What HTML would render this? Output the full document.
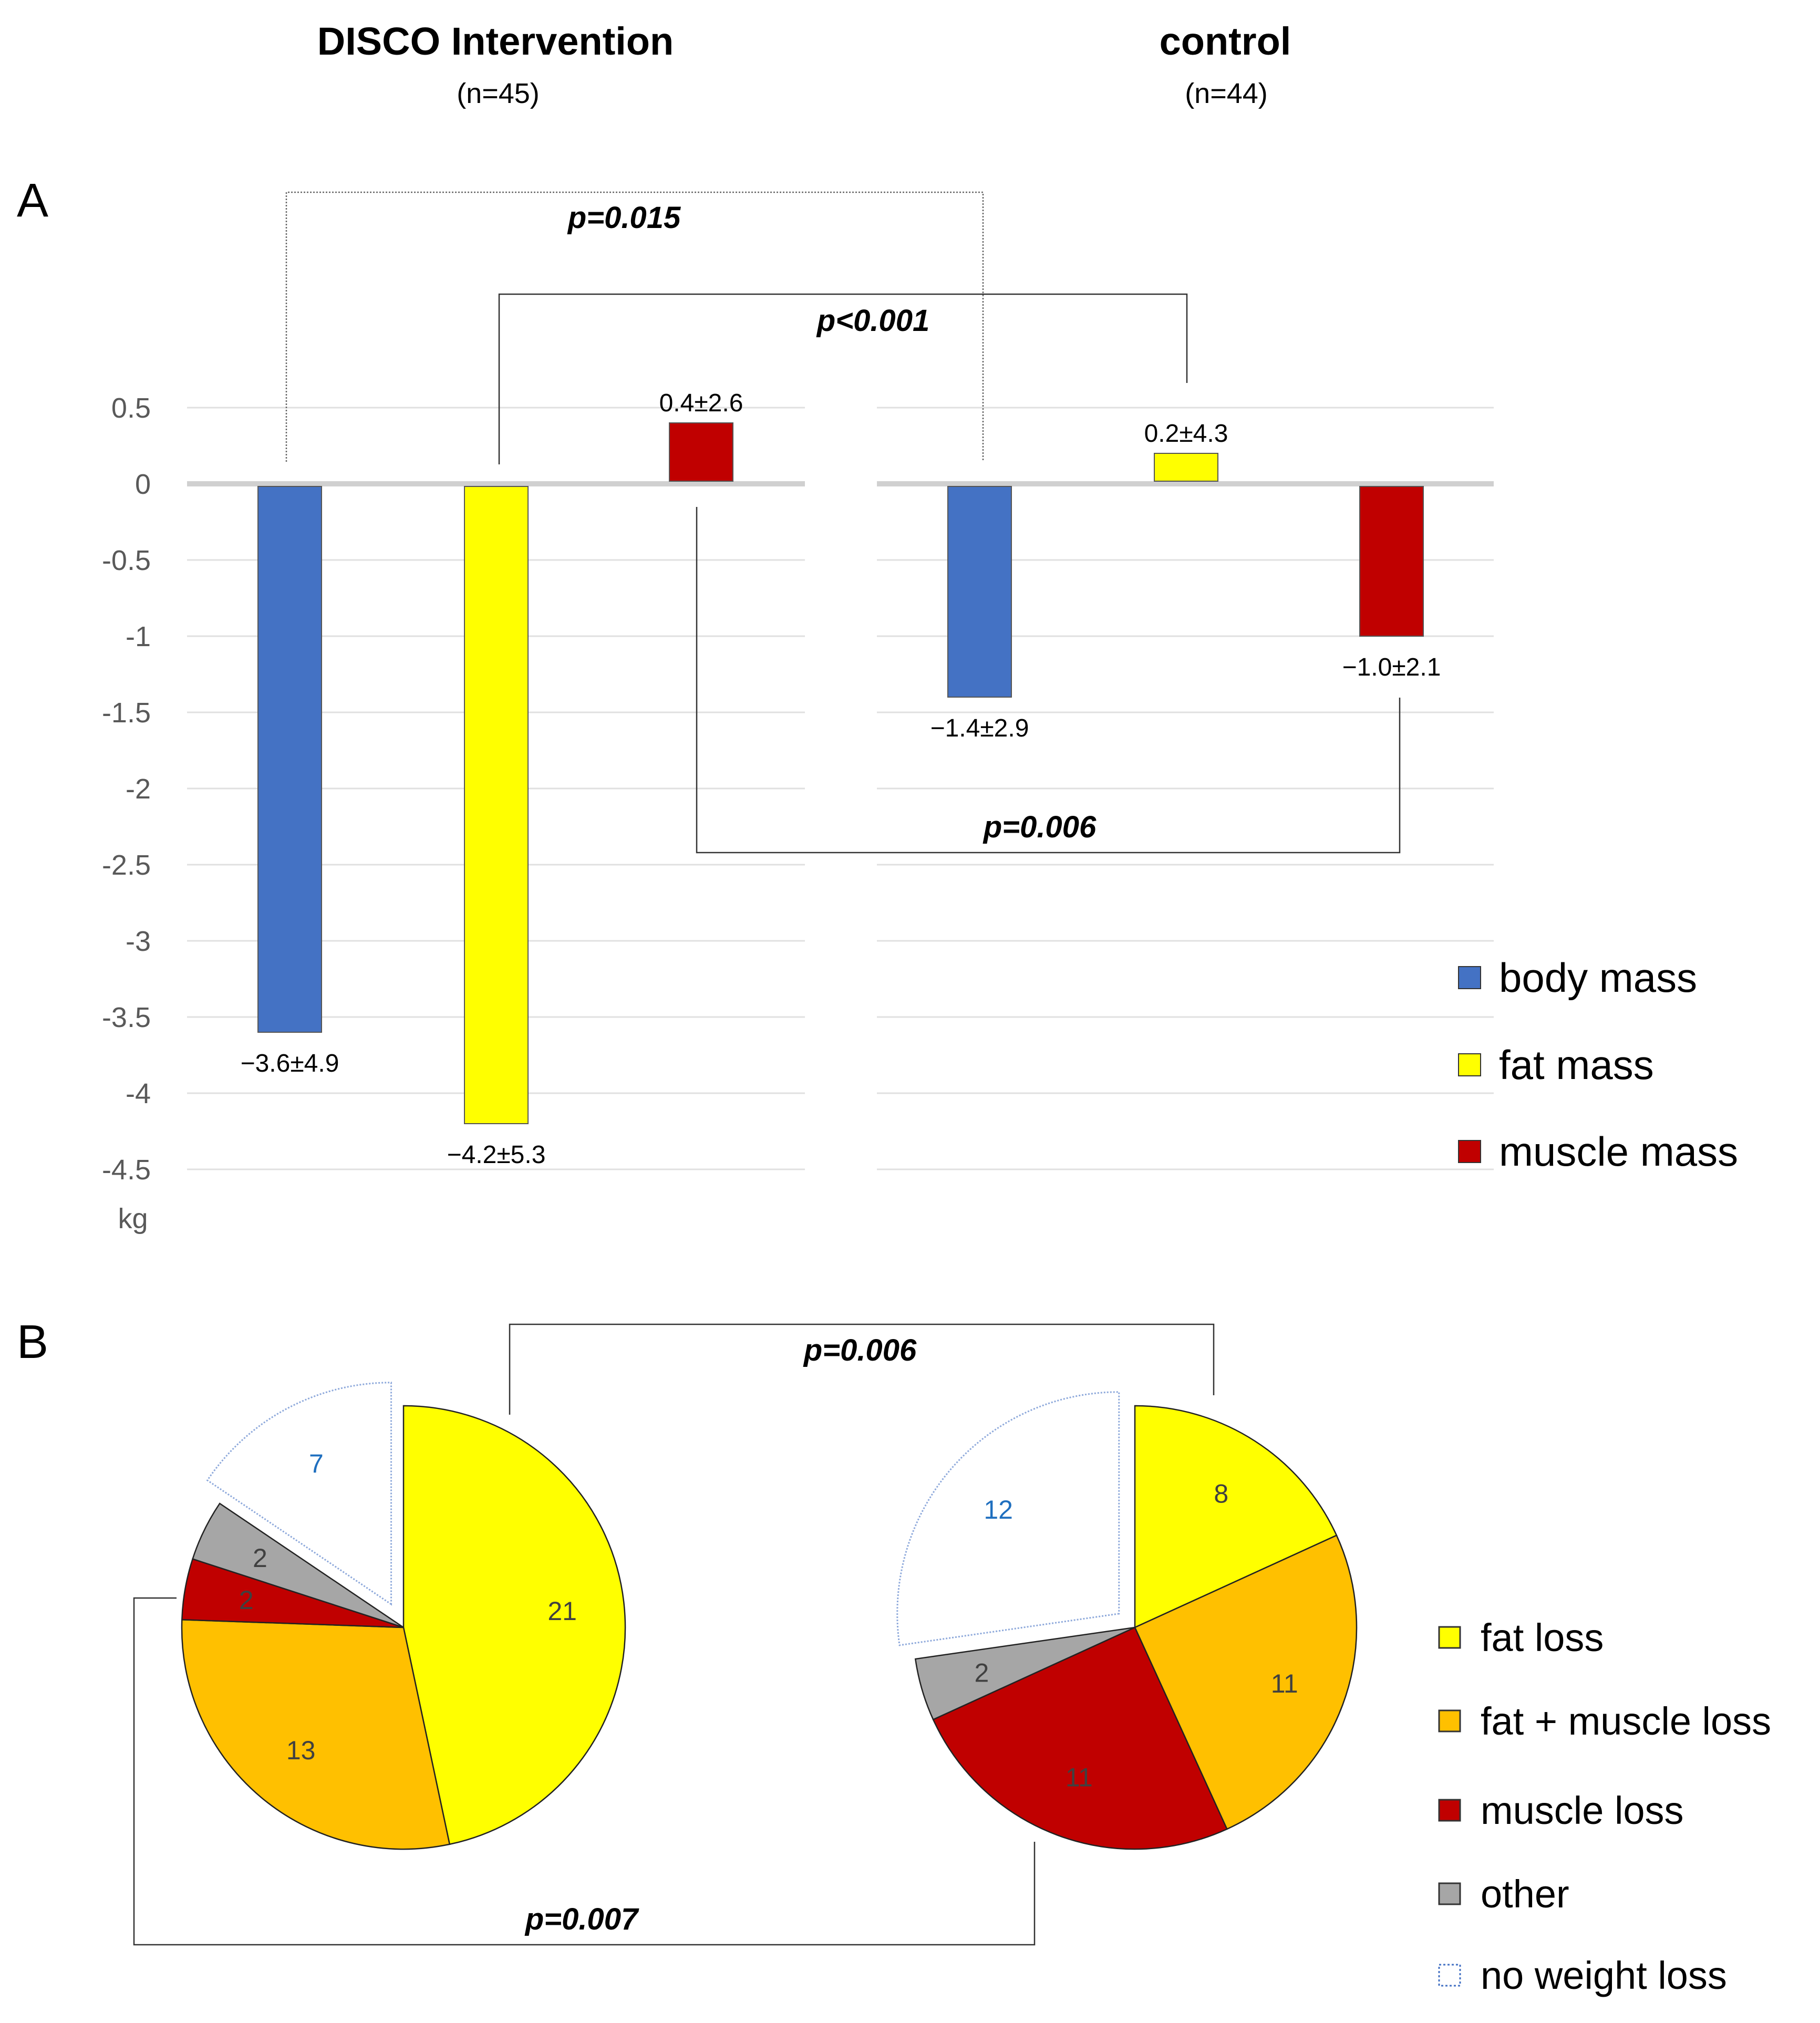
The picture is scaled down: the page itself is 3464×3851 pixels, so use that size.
<!DOCTYPE html>
<html><head><meta charset="utf-8"><style>
html,body{margin:0;padding:0;background:#fff}
svg{display:block;font-family:"Liberation Sans",Arial,sans-serif}
</style></head><body>
<svg id="fig" width="3464" height="3851" viewBox="0 0 3464 3851">
<text x="943" y="104" font-size="74" font-weight="bold" text-anchor="middle">DISCO Intervention</text>
<text x="948" y="196" font-size="54" text-anchor="middle">(n=45)</text>
<text x="2332" y="104" font-size="74" font-weight="bold" text-anchor="middle">control</text>
<text x="2334" y="196" font-size="54" text-anchor="middle">(n=44)</text>
<text x="32" y="412" font-size="90">A</text>
<text x="32" y="2585" font-size="90">B</text>
<g id="grid"></g>
<g id="ticks"></g>
<text x="253" y="2338" font-size="54" fill="#595959" text-anchor="middle">kg</text>
<g id="bars"></g>
<g fill="none" stroke="#333" stroke-width="2.5">
<polyline points="545,879 545,366 1871,366 1871,879" stroke-dasharray="3,3" stroke="#666"/>
<polyline points="950,884 950,560 2259,560 2259,729"/>
<polyline points="1326,965 1326,1623 2664,1623 2664,1328"/>
</g>
<g font-size="58" font-style="italic" font-weight="bold" text-anchor="middle">
<text x="1188" y="434">p=0.015</text>
<text x="1662" y="630">p&lt;0.001</text>
<text x="1979" y="1594">p=0.006</text>
</g>
<g font-size="78">
<rect x="2776" y="1840" width="42" height="42" fill="#4472c4" stroke="#333" stroke-width="2"/>
<text x="2853" y="1888">body mass</text>
<rect x="2776" y="2006" width="42" height="42" fill="#ffff00" stroke="#333" stroke-width="2"/>
<text x="2853" y="2054">fat mass</text>
<rect x="2776" y="2171" width="42" height="42" fill="#c00000" stroke="#333" stroke-width="2"/>
<text x="2853" y="2219">muscle mass</text>
</g>
<g id="pies"></g>
<g fill="none" stroke="#333" stroke-width="2.5">
<polyline points="970,2693 970,2521 2310,2521 2310,2656"/>
<polyline points="336,3042 255,3042 255,3702 1969,3702 1969,3506"/>
</g>
<g font-size="58" font-style="italic" font-weight="bold" text-anchor="middle">
<text x="1637" y="2590">p=0.006</text>
<text x="1107" y="3673">p=0.007</text>
</g>
<g font-size="74">
<rect x="2739" y="3097" width="40" height="40" fill="#ffff00" stroke="#333" stroke-width="3"/>
<text x="2818" y="3143">fat loss</text>
<rect x="2739" y="3256" width="40" height="40" fill="#ffc000" stroke="#333" stroke-width="3"/>
<text x="2818" y="3302">fat + muscle loss</text>
<rect x="2739" y="3426" width="40" height="40" fill="#c00000" stroke="#333" stroke-width="3"/>
<text x="2818" y="3472">muscle loss</text>
<rect x="2739" y="3585" width="40" height="40" fill="#a6a6a6" stroke="#333" stroke-width="3"/>
<text x="2818" y="3631">other</text>
<rect x="2739" y="3740" width="40" height="40" fill="#fff" stroke="#4472c4" stroke-width="3" stroke-dasharray="4,4"/>
<text x="2818" y="3786">no weight loss</text>
</g>
</svg>
<script>
const NS="http://www.w3.org/2000/svg";
const tickValues=[0.5,0,-0.5,-1,-1.5,-2,-2.5,-3,-3.5,-4,-4.5];
const tickLabels=["0.5","0","-0.5","-1","-1.5","-2","-2.5","-3","-3.5","-4","-4.5"];
const seriesNames=["body mass","fat mass","muscle mass"];
const interventionValues=[-3.6,-4.2,0.4];
const controlValues=[-1.4,0.2,-1.0];
const interventionLabels=["\u22123.6\u00b14.9","\u22124.2\u00b15.3","0.4\u00b12.6"];
const controlLabels=["\u22121.4\u00b12.9","0.2\u00b14.3","\u22121.0\u00b12.1"];
const pieCategories=["fat loss","fat + muscle loss","muscle loss","other","no weight loss"];
const interventionCounts=[21,13,2,2,7];
const controlCounts=[8,11,11,2,12];

const colors=["#4472c4","#ffff00","#c00000"];
const pieColors=["#ffff00","#ffc000","#c00000","#a6a6a6","#ffffff"];
const y0=921, pxPerKg=290;
function yScale(v){return y0-v*pxPerKg;}
const panels=[{x0:356,x1:1532,bx:[491,884,1274]},{x0:1669,x1:2843,bx:[1804,2197,2588]}];
const barW=121;
function mk(tag,attrs,parent){const e=document.createElementNS(NS,tag);for(const k in attrs)e.setAttribute(k,attrs[k]);parent.appendChild(e);return e;}
const grid=document.getElementById('grid'),ticks=document.getElementById('ticks'),bars=document.getElementById('bars'),pies=document.getElementById('pies');
tickValues.forEach((v,i)=>{
  panels.forEach(p=>{
    const l=mk('line',{x1:p.x0,x2:p.x1,y1:yScale(v),y2:yScale(v),stroke:v===0?'#d0d0d0':'#e0e0e0','stroke-width':v===0?10:3},grid);
    
    
  });
  const t=mk('text',{x:287,y:yScale(v)+19,'font-size':54,fill:'#595959','text-anchor':'end'},ticks);
  t.textContent=tickLabels[i];
  
  
});
[[interventionValues,interventionLabels],[controlValues,controlLabels]].forEach((g,gi)=>{
  g[0].forEach((v,i)=>{
    const x=panels[gi].bx[i];
    const top=Math.min(yScale(v),y0-3), bot=Math.max(yScale(v),y0+3);
    const r=mk('rect',{x:x,y:v>=0?yScale(v):y0+5,width:barW,height:v>=0?y0-5-yScale(v):yScale(v)-y0-5,fill:colors[i],stroke:'#555','stroke-width':2},bars);
    
    
    const t=mk('text',{x:x+barW/2,y:v>=0?yScale(v)-22:yScale(v)+75,'font-size':48,'text-anchor':'middle'},bars);
    t.textContent=g[1][i];
    
    
  });
});
function drawPie(cx,cy,R,counts,explode,labelColorIdx){
  const total=counts.reduce((a,b)=>a+b,0);
  let a=0;
  counts.forEach((c,i)=>{
    const sweep=c/total*2*Math.PI, mid=a+sweep/2;
    const off=i===4?explode:0;
    const ox=cx+off*Math.sin(mid), oy=cy-off*Math.cos(mid);
    const x1=ox+R*Math.sin(a),y1=oy-R*Math.cos(a),x2=ox+R*Math.sin(a+sweep),y2=oy-R*Math.cos(a+sweep);
    const p=mk('path',{d:`M${ox},${oy} L${x1},${y1} A${R},${R} 0 ${sweep>Math.PI?1:0} 1 ${x2},${y2} Z`,fill:pieColors[i],stroke:i===4?'#8ea9db':'#222','stroke-width':i===4?3:2.5,'stroke-dasharray':i===4?'3,3':'none'},pies);
    
    
    const lr=R*0.72;
    const t=mk('text',{x:ox+lr*Math.sin(mid),y:oy-lr*Math.cos(mid)+18,'font-size':50,'text-anchor':'middle',fill:i===4?'#1f6fbf':'#404040'},pies);
    t.textContent=c;
    
    
    a+=sweep;
  });
}
drawPie(768,3098,422,interventionCounts,50);
drawPie(2160,3098,422,controlCounts,40);
</script>
</body></html>
